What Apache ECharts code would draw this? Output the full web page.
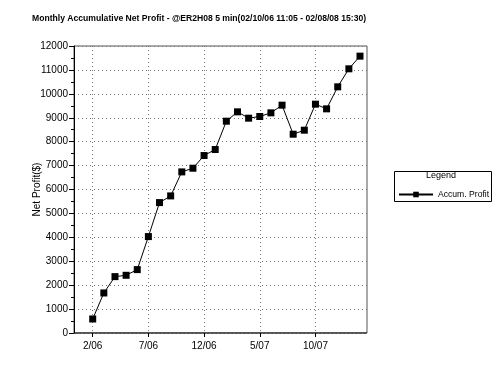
<!DOCTYPE html>
<html><head><meta charset="utf-8">
<script src="https://cdn.jsdelivr.net/npm/echarts@6/dist/echarts.min.js"></script>
<style>html,body{margin:0;padding:0;background:#fff}#c{width:500px;height:373px}</style>
</head><body><div id="c"></div>
<script>
const titleText = 'Monthly Accumulative Net Profit - @ER2H08 5 min(02/10/06 11:05 - 02/08/08 15:30)';
const months = ['2/06','3/06','4/06','5/06','6/06','7/06','8/06','9/06','10/06','11/06','12/06','1/07','2/07','3/07','4/07','5/07','6/07','7/07','8/07','9/07','10/07','11/07','12/07','1/08','2/08'];
const profit = [586,1674,2357,2413,2650,4031,5453,5732,6736,6890,7420,7671,8856,9247,8982,9052,9205,9526,8312,8480,9568,9372,10293,11046,11576];
const seriesName = 'Accum. Profit';
const yName = 'Net Profit($)';

const chart = echarts.init(document.getElementById('c'), null, {renderer:'canvas'});
const font = 'Liberation Sans, Arial, sans-serif';
chart.setOption({
  animation:false,
  backgroundColor:'#fff',
  textStyle:{fontFamily:font},
  title:{text:titleText,left:27,top:9,textStyle:{fontSize:8.6,fontWeight:'bold',color:'#000',fontFamily:font}},
  grid:[
    {left:74,top:46,width:293,height:287,show:true,borderColor:'#555',borderWidth:1,backgroundColor:'transparent'},
    {left:92.7,top:46,width:267.3,height:287}
  ],
  xAxis:[
    {gridIndex:0,type:'value',min:0,max:1,show:false},
    {gridIndex:1,type:'category',data:months,boundaryGap:false,
     axisLine:{show:false},
     axisTick:{show:true,interval:4,length:4,lineStyle:{color:'#000'}},
     axisLabel:{interval:4,color:'#000',fontSize:10,margin:8},
     splitLine:{show:true,interval:4,lineStyle:{color:'#777',type:[1,3],width:1}}}
  ],
  yAxis:[
    {gridIndex:0,type:'value',min:0,max:12000,interval:1000,name:yName,nameLocation:'middle',nameGap:32,nameMoveOverlap:false,
     nameTextStyle:{color:'#000',fontSize:10},
     axisLine:{show:true,lineStyle:{color:'#000'}},
     axisTick:{show:true,length:5,lineStyle:{color:'#000'}},
     minorTick:{show:true,splitNumber:2,length:3,lineStyle:{color:'#000'}},
     axisLabel:{color:'#000',fontSize:10,margin:6,formatter:function(v){return String(v);}},
     splitLine:{show:true,lineStyle:{color:'#777',type:[1,3],width:1}}},
    {gridIndex:1,type:'value',min:0,max:12000,show:false}
  ],
  legend:{show:true,left:393,top:185,itemWidth:34,itemHeight:7,itemGap:4,
    data:[seriesName],textStyle:{color:'#000',fontSize:8.6,fontFamily:font}},
  graphic:[
    {type:'rect',left:392,top:169,shape:{width:97,height:30},style:{fill:'none',stroke:'#000',lineWidth:1}},
    {type:'text',left:426,top:171,style:{text:'Legend',fill:'#000',fontSize:9,fontFamily:font}},
    {type:'line',shape:{x1:74,y1:333,x2:367,y2:333},style:{stroke:'#000',lineWidth:1}}
  ],
  series:[{
    name:seriesName,type:'line',xAxisIndex:1,yAxisIndex:1,data:profit,
    symbol:'rect',symbolSize:7,
    lineStyle:{color:'#000',width:1},
    itemStyle:{color:'#000'}
  }]
});
</script></body></html>
